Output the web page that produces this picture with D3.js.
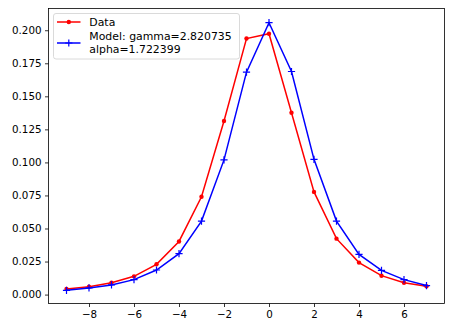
<!DOCTYPE html>
<html><head><meta charset="utf-8">
<script src="https://cdn.jsdelivr.net/npm/d3@7"></script>
<style>
html,body{margin:0;padding:0;background:#fff;}
text{font-family:"DejaVu Sans",sans-serif;}
</style></head>
<body><div id="chart"></div>
<script>
const xValues = [-9,-8,-7,-6,-5,-4,-3,-2,-1,0,1,2,3,4,5,6,7];
const dataValues = [0.0042,0.0060,0.0090,0.0138,0.0229,0.0402,0.0740,0.1313,0.1937,0.1974,0.1376,0.0777,0.0423,0.0242,0.0143,0.0090,0.0063];
const modelValues = [0.0032,0.0050,0.0073,0.0113,0.0186,0.0310,0.0556,0.1019,0.1683,0.2057,0.1688,0.1023,0.0556,0.0304,0.0183,0.0113,0.0068];
const xTicks = [-8,-6,-4,-2,0,2,4,6];
const yTicks = [0,0.025,0.05,0.075,0.1,0.125,0.15,0.175,0.2];
const legendLabels = ["Data", ["Model: gamma=2.820735","alpha=1.722399"]];

const W=452,H=329;
const L=48.5,R=444.5,T=8.5,B=303.5;
const FS="10.3px", LFS="10.9px";
const svg=d3.select("#chart").append("svg").attr("width",W).attr("height",H);
svg.append("rect").attr("width",W).attr("height",H).attr("fill","#fff");

const x=d3.scaleLinear().domain([-9.8,7.8]).range([L,R]);
const y=d3.scaleLinear().domain([-0.00675,0.21645]).range([B,T]);

const xAxis=svg.append("g").attr("transform",`translate(0,${B})`)
  .call(d3.axisBottom(x).tickValues(xTicks).tickSize(3.5).tickPadding(3.5).tickFormat(d=>d<0?"\u2212"+Math.abs(d):d));
const yAxis=svg.append("g").attr("transform",`translate(${L},0)`)
  .call(d3.axisLeft(y).tickValues(yTicks).tickSize(3.5).tickPadding(3.5).tickFormat(d3.format(".3f")));
[xAxis,yAxis].forEach(a=>{
  a.select(".domain").remove();
  a.selectAll("line").attr("stroke","#000").attr("stroke-width",0.8);
  a.selectAll("text").attr("fill","#000").style("font-size",FS).style("font-family","DejaVu Sans");
});
svg.append("rect").attr("x",L).attr("y",T).attr("width",R-L).attr("height",B-T)
  .attr("fill","none").attr("stroke","#000").attr("stroke-width",0.8);

const line=d3.line().x(d=>x(d[0])).y(d=>y(d[1]));
const dataPts=xValues.map((v,i)=>[v,dataValues[i]]);
const modelPts=xValues.map((v,i)=>[v,modelValues[i]]);

svg.append("path").datum(dataPts).attr("d",line).attr("fill","none").attr("stroke","#ff0000").attr("stroke-width",1.5);
svg.selectAll(".dm").data(dataPts).enter().append("circle")
  .attr("cx",d=>x(d[0])).attr("cy",d=>y(d[1])).attr("r",2.2).attr("fill","#ff0000");

svg.append("path").datum(modelPts).attr("d",line).attr("fill","none").attr("stroke","#0000ff").attr("stroke-width",1.5);
const plus=(g,cx,cy,s)=>{
  g.append("path").attr("d",`M${cx-s},${cy}H${cx+s}M${cx},${cy-s}V${cy+s}`).attr("stroke","#0000ff").attr("stroke-width",1.2).attr("fill","none");
};
const mg=svg.append("g");
modelPts.forEach(d=>plus(mg,x(d[0]),y(d[1]),3.6));

// legend
const lg=svg.append("g");
lg.append("rect").attr("x",53.5).attr("y",13.5).attr("width",186).attr("height",45.5).attr("rx",2.5)
  .attr("fill","#fff").attr("fill-opacity",0.8).attr("stroke","#d0d0d0").attr("stroke-width",0.8);
lg.append("line").attr("x1",57).attr("x2",80.5).attr("y1",22).attr("y2",22).attr("stroke","#ff0000").attr("stroke-width",1.5);
lg.append("circle").attr("cx",68.8).attr("cy",22).attr("r",2.2).attr("fill","#ff0000");
lg.append("line").attr("x1",57).attr("x2",80.5).attr("y1",43).attr("y2",43).attr("stroke","#0000ff").attr("stroke-width",1.5);
plus(lg,68.8,43,3.6);
lg.append("text").attr("x",89.3).attr("y",26).style("font-size",LFS).attr("fill","#000").text(legendLabels[0]);
lg.append("text").attr("x",89.3).attr("y",40.4).style("font-size",LFS).attr("fill","#000").text(legendLabels[1][0]);
lg.append("text").attr("x",89.3).attr("y",53.2).style("font-size",LFS).attr("fill","#000").text(legendLabels[1][1]);
</script></body></html>
